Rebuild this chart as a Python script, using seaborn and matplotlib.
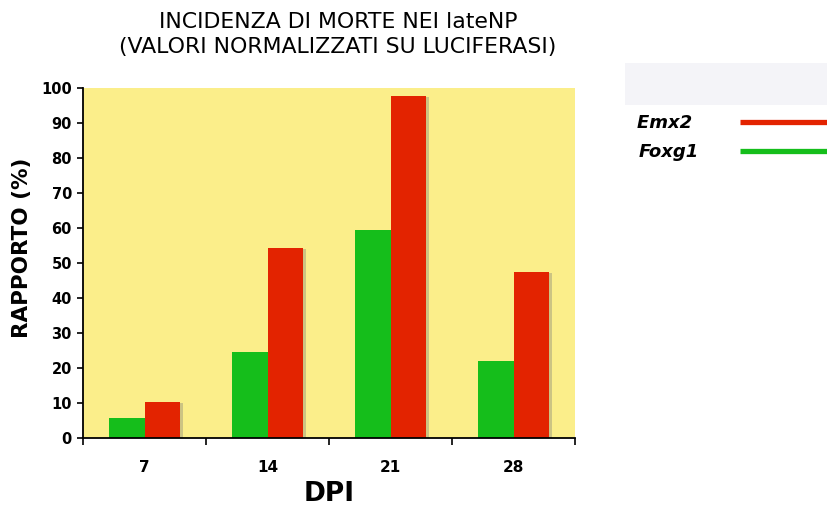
import matplotlib
matplotlib.use("Agg")
import matplotlib.pyplot as plt
import matplotlib.patheffects as pe
from matplotlib.lines import Line2D
from matplotlib.patches import Rectangle
import seaborn as sns
import pandas as pd

# Data: death incidence in lateNP, normalised on luciferase
dpi_labels = ["7", "14", "21", "28"]
genes = ["Foxg1", "Emx2"]
foxg1_values = [5.8, 24.7, 59.4, 22.0]
emx2_values = [10.4, 54.4, 97.8, 47.5]
gene_colors = {"Foxg1": "#15BE1B", "Emx2": "#E32300"}
legend_order = ["Emx2", "Foxg1"]

df = pd.DataFrame({
    "DPI": dpi_labels * 2,
    "gene": ["Foxg1"] * 4 + ["Emx2"] * 4,
    "value": foxg1_values + emx2_values,
})

sns.set_theme(style="white")
plt.rcParams["font.family"] = ["DejaVu Sans"]
plt.rcParams.update({"text.color": "black", "axes.labelcolor": "black",
                     "xtick.color": "black", "ytick.color": "black"})

fig = plt.figure(figsize=(8.27, 5.08), dpi=100)
ax = fig.add_axes([83 / 827, 1 - 438 / 508, 492 / 827, 350 / 508])
ax.set_facecolor("#FBEE8A")

sns.barplot(data=df, x="DPI", y="value", hue="gene", order=dpi_labels,
            hue_order=genes, palette=gene_colors, width=0.57,
            saturation=1, errorbar=None, ax=ax, legend=False,
            linewidth=0)

for bar in ax.patches:
    bar.set_path_effects([pe.SimplePatchShadow(offset=(2.5, -1), alpha=0.35,
                                               shadow_rgbFace="#777777"),
                          pe.Normal()])

ax.set_ylim(0, 100)
ax.set_xlim(-0.5, 3.5)
ax.set_yticks(range(0, 101, 10))
ax.tick_params(axis="y", which="major", direction="out", length=4, width=1.2,
               color="black", labelsize=10.5, pad=4, left=True)
for lbl in ax.get_yticklabels():
    lbl.set_fontweight("bold")

# Ticks at category boundaries, labels at category centres
ax.set_xticks([-0.5, 0.5, 1.5, 2.5, 3.5])
ax.set_xticklabels([])
ax.set_xticks(range(len(dpi_labels)), minor=True)
ax.set_xticklabels(dpi_labels, minor=True, fontweight="bold", fontsize=11)
ax.tick_params(axis="x", which="major", direction="out", length=5, width=1.2,
               color="black", bottom=True)
ax.tick_params(axis="x", which="minor", length=0, pad=16, bottom=True)

for side in ["top", "right"]:
    ax.spines[side].set_visible(False)
for side in ["left", "bottom"]:
    ax.spines[side].set_color("black")
    ax.spines[side].set_linewidth(1.3)

ax.set_xlabel("DPI", fontsize=19, fontweight="bold", labelpad=4)
ax.set_ylabel("RAPPORTO (%)", fontsize=15.5, fontweight="bold")
ax.yaxis.set_label_coords(-0.104, 0.543)

fig.text(338 / 827, 1 - 22 / 508, "INCIDENZA DI MORTE NEI lateNP",
         ha="center", va="center", fontsize=15.8)
fig.text(338 / 827, 1 - 47 / 508, "(VALORI NORMALIZZATI SU LUCIFERASI)",
         ha="center", va="center", fontsize=15.8)

# pale panel above the legend
fig.patches.append(Rectangle((625 / 827, 1 - 105 / 508), 202 / 827, 42 / 508,
                             transform=fig.transFigure, facecolor="#F4F4F8",
                             edgecolor="none", zorder=0))

handles = [Line2D([0], [0], color=gene_colors[g], lw=3.8,
                  solid_capstyle="butt") for g in legend_order]
# trailing space evens out the label widths so the text stays left-aligned
leg = fig.legend(handles, ["Emx2 ", "Foxg1"], loc="upper left",
                 bbox_to_anchor=(621 / 827, 1 - 98 / 508),
                 frameon=False, markerfirst=False, handlelength=4.9,
                 handletextpad=2.3, labelspacing=0.62,
                 prop={"weight": "bold", "style": "italic", "size": 13})

fig.savefig("out.png", dpi=100)
